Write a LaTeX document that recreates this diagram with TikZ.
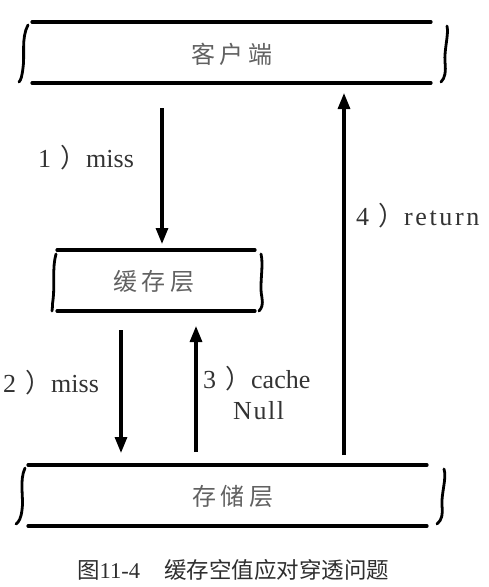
\documentclass[tikz,border=0pt]{standalone}
\usepackage{fontspec}
\setmainfont{Liberation Serif}
\newfontfamily\cjk{Noto Sans CJK SC}
\newfontfamily\widefont[LetterSpace=10]{Liberation Serif}
\newfontfamily\midfont[LetterSpace=6]{Liberation Serif}
\usetikzlibrary{arrows.meta}
\tikzset{
  edge/.style={line width=3.2pt,line cap=round},
  brace/.style={line width=2.8pt,line cap=round},
  flow/.style={line width=3.1pt,-{Triangle[length=16pt,width=12pt]}},
  layer/.style={font=\cjk\fontsize{24}{28}\selectfont,text=black!62,inner sep=0pt},
  lbl/.style={font=\fontsize{26}{30}\selectfont,text=black!80,inner sep=0pt,anchor=base west},
  captext/.style={font=\fontsize{22.5}{26}\selectfont,text=black!82,inner sep=0pt,anchor=base west}
}
\newcommand{\fp}{\hspace{9pt}{\cjk ）}}
\begin{document}
\begin{tikzpicture}[x=1pt,y=-1pt]
\useasboundingbox (0,0) rectangle (488,587);
% client box
\draw[edge] (32,22) -- (431,22);
\draw[edge] (32,83) -- (431,83);
\draw[brace] (28,25) .. controls (21,38) and (25,55) .. (23,68) .. controls (22,76) and (21,80) .. (19,82);
\draw[brace] (447,26) .. controls (449,34) and (444,50) .. (445,62) .. controls (446,72) and (445,78) .. (441,82);
\node[layer] (client) at (232,54) {客\hspace{5pt}户\hspace{5pt}端};
% cache box
\draw[edge] (57,250) -- (255,250);
\draw[edge] (57,311) -- (255,311);
\draw[brace] (56,254) .. controls (52,268) and (55,285) .. (53,300) .. controls (52,305) and (53,308) .. (52,311);
\draw[brace] (261,254) .. controls (264,265) and (259,285) .. (262,298) .. controls (263,304) and (262,308) .. (259,311);
\node[layer] (cache) at (154,281) {缓\hspace{5pt}存\hspace{5pt}层};
% storage box
\draw[edge] (28,465) -- (427,465);
\draw[edge] (28,526) -- (427,526);
\draw[brace] (25,468) .. controls (19,481) and (24,498) .. (22,510) .. controls (21,518) and (19,522) .. (16,524);
\draw[brace] (444,469) .. controls (447,478) and (441,494) .. (442,506) .. controls (443,514) and (442,520) .. (437,524);
\node[layer] (store) at (233,496) {存\hspace{5pt}储\hspace{5pt}层};
% arrows
\coordinate (a1s) at (162,108);
\coordinate (a1e) at (162,244);
\coordinate (a2s) at (121,330);
\coordinate (a2e) at (121,453);
\coordinate (a3s) at (196,452);
\coordinate (a3e) at (196,326);
\coordinate (a4s) at (344,455);
\coordinate (a4e) at (344,93);
\draw[flow] (a1s) -- (a1e);
\draw[flow] (a2s) -- (a2e);
\draw[flow] (a3s) -- (a3e);
\draw[flow] (a4s) -- (a4e);
% labels
\node[lbl] (l1) at (38,167) {1\fp miss};
\node[lbl] (l2) at (3,392) {2\fp miss};
\node[lbl] (l3) at (203,388) {3\fp cache};
\node[lbl] (l3b) at (233,419) {\midfont Null};
\node[lbl] (l4) at (356,225) {4\fp{\widefont return}};
% caption
\node[captext] (caption) at (77,578) {{\cjk 图}11-4\hspace{24pt}{\cjk 缓存空值应对穿透问题}};
\end{tikzpicture}
\end{document}
